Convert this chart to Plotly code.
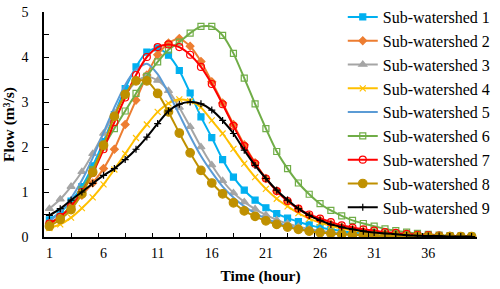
import plotly.graph_objects as go

hours = list(range(1, 41))
x_tick_labels = ["1", "6", "11", "16", "21", "26", "31", "36"]
x_tick_vals = [1, 6, 11, 16, 21, 26, 31, 36]

sub1 = [0.38, 0.55, 0.8, 1.12, 1.58, 2.12, 2.72, 3.3, 3.78, 4.11, 4.2, 4.04, 3.7, 3.2, 2.67, 2.21, 1.72, 1.33, 1.04, 0.82,
        0.65, 0.52, 0.42, 0.34, 0.27, 0.21, 0.17, 0.13, 0.1, 0.08, 0.06, 0.05, 0.04, 0.03, 0.02, 0.02, 0.01, 0.01, 0.01, 0.01]
sub2 = [0.3, 0.44, 0.67, 0.93, 1.2, 1.52, 1.95, 2.5, 3.04, 3.6, 4.05, 4.31, 4.41, 4.24, 3.9, 3.45, 2.98, 2.5, 2.05, 1.65,
        1.3, 1.02, 0.8, 0.62, 0.48, 0.37, 0.29, 0.22, 0.17, 0.13, 0.1, 0.08, 0.06, 0.05, 0.04, 0.03, 0.02, 0.02, 0.01, 0.01]
sub3 = [0.63, 0.84, 1.12, 1.45, 1.85, 2.3, 2.75, 3.15, 3.45, 3.57, 3.48, 3.25, 2.88, 2.45, 2.0, 1.6, 1.25, 0.98, 0.78, 0.62,
        0.49, 0.38, 0.3, 0.23, 0.18, 0.14, 0.11, 0.08, 0.06, 0.05, 0.04, 0.03, 0.02, 0.02, 0.01, 0.01, 0.01, 0.01, 0.0, 0.0]
sub4 = [0.2, 0.28, 0.43, 0.64, 0.88, 1.17, 1.5, 1.85, 2.2, 2.5, 2.78, 2.97, 3.06, 3.02, 2.88, 2.59, 2.3, 1.96, 1.63, 1.33,
        1.07, 0.85, 0.68, 0.53, 0.41, 0.32, 0.25, 0.19, 0.15, 0.11, 0.09, 0.07, 0.05, 0.04, 0.03, 0.02, 0.02, 0.01, 0.01, 0.01]
sub5 = [0.35, 0.55, 0.86, 1.26, 1.76, 2.32, 2.88, 3.38, 3.72, 3.85, 3.62, 3.2, 2.72, 2.24, 1.8, 1.44, 1.12, 0.88, 0.68, 0.53,
        0.41, 0.32, 0.25, 0.19, 0.15, 0.11, 0.09, 0.07, 0.05, 0.04, 0.03, 0.02, 0.02, 0.01, 0.01, 0.01, 0.01, 0.0, 0.0, 0.0]
sub6 = [0.3, 0.45, 0.7, 1.05, 1.5, 2.0, 2.41, 2.8, 3.19, 3.57, 3.89, 4.16, 4.33, 4.53, 4.68, 4.68, 4.48, 4.08, 3.53, 2.96,
        2.41, 1.9, 1.52, 1.2, 0.95, 0.74, 0.59, 0.47, 0.37, 0.3, 0.24, 0.18, 0.14, 0.11, 0.08, 0.06, 0.04, 0.03, 0.02, 0.02]
sub7 = [0.3, 0.45, 0.68, 1.0, 1.42, 1.95, 2.55, 3.1, 3.6, 4.0, 4.22, 4.28, 4.22, 4.05, 3.78, 3.4, 2.95, 2.47, 2.02, 1.63,
        1.3, 1.02, 0.8, 0.63, 0.5, 0.41, 0.33, 0.26, 0.21, 0.17, 0.14, 0.11, 0.09, 0.07, 0.05, 0.04, 0.03, 0.02, 0.02, 0.01]
sub8 = [0.24, 0.39, 0.61, 0.96, 1.44, 2.04, 2.68, 3.17, 3.47, 3.47, 3.19, 2.78, 2.31, 1.87, 1.48, 1.2, 0.96, 0.76, 0.58, 0.46,
        0.36, 0.28, 0.22, 0.17, 0.13, 0.1, 0.08, 0.06, 0.05, 0.04, 0.03, 0.02, 0.02, 0.01, 0.01, 0.01, 0.01, 0.01, 0.01, 0.01]
sub9 = [0.48, 0.63, 0.82, 1.0, 1.19, 1.37, 1.52, 1.72, 1.95, 2.22, 2.52, 2.8, 2.95, 3.0, 2.96, 2.82, 2.59, 2.3, 1.93, 1.59,
        1.3, 1.04, 0.82, 0.63, 0.48, 0.37, 0.28, 0.22, 0.17, 0.13, 0.1, 0.08, 0.06, 0.04, 0.03, 0.02, 0.02, 0.01, 0.01, 0.01]

names = ["Sub-watershed 1", "Sub-watershed 2", "Sub-watershed 3", "Sub-watershed 4", "Sub-watershed 5",
         "Sub-watershed 6", "Sub-watershed 7", "Sub-watershed 8", "Sub-watershed 9"]
series = [sub1, sub2, sub3, sub4, sub5, sub6, sub7, sub8, sub9]
colors = ["#00B0F0", "#ED7D31", "#A5A5A5", "#FFC000", "#5B9BD5", "#70AD47", "#FF0000", "#BF9000", "#000000"]
symbols = ["square", "diamond", "triangle-up", "x-thin-open", None, "square-open", "circle-open", "circle", "cross-thin-open"]
sizes = [6, 6, 7, 6, 0, 6, 7, 8.5, 5]

fig = go.Figure()
for name, ys, c, s, sz in zip(names, series, colors, symbols, sizes):
    if s is None:
        fig.add_trace(go.Scatter(x=hours, y=ys, name=name, mode="lines",
                                 line=dict(color=c, width=2, shape="spline", smoothing=0.6)))
    else:
        fig.add_trace(go.Scatter(x=hours, y=ys, name=name, mode="lines+markers",
                                 line=dict(color=c, width=2, shape="spline", smoothing=0.6),
                                 marker=dict(symbol=s, size=sz, color=c,
                                             line=dict(color=c, width=1.2))))

font_family = "Liberation Serif, Times New Roman, serif"
fig.update_layout(
    width=500, height=289,
    margin=dict(l=44, r=23, t=12, b=52, autoexpand=False),
    paper_bgcolor="white", plot_bgcolor="white",
    font=dict(family=font_family, size=14, color="black"),
    showlegend=True,
    legend=dict(x=0.69, y=1.012, xanchor="left", yanchor="top", yref="container",
                bgcolor="rgba(0,0,0,0)",
                font=dict(family=font_family, size=16, color="black"),
                itemwidth=30, tracegroupgap=0, maxheight=289),
    xaxis=dict(range=[0.5, 40.5], tickmode="array", tickvals=x_tick_vals, ticktext=x_tick_labels,
               ticks="inside", ticklen=0, showline=True, linecolor="black", linewidth=1.5,
               showgrid=False, zeroline=False, ticklabelstandoff=2, automargin=False,
               minor=dict(tick0=0.5, dtick=2.5, ticks="inside", ticklen=4, tickcolor="black", tickwidth=1.3),
               title=dict(text="<b>Time (hour)</b>", font=dict(family=font_family, size=15.5), standoff=11)),
    yaxis=dict(range=[0, 5], dtick=1, ticks="inside", ticklen=5, tickcolor="black", tickwidth=1.3,
               showline=True, linecolor="black", linewidth=1.5, showgrid=False, zeroline=False,
               ticklabelstandoff=11, automargin=False,
               minor=dict(dtick=0.5, ticks="inside", ticklen=5, tickcolor="black", tickwidth=1.3),
               title=dict(text="<b>Flow (m³/s)</b>", font=dict(family=font_family, size=15.5), standoff=4)),
)

fig.write_html("out.html", config={"displayModeBar": False},
               post_script="document.body.style.margin='0px';")
